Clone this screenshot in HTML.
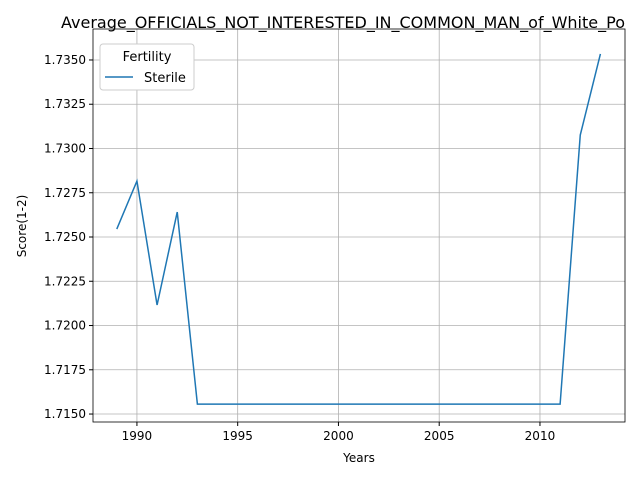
<!DOCTYPE html>
<html><head><meta charset="utf-8"><style>body{margin:0;background:#fff}svg{display:block;font-family:"DejaVu Sans","Liberation Sans",sans-serif}</style></head>
<body>
<svg id="chart" width="640" height="480">
<text x="61" y="28" font-size="16">Average_OFFICIALS_NOT_INTERESTED_IN_COMMON_MAN_of_White_Po</text>
<g id="grid"></g><g id="axes"></g><g id="series"></g>
<text x="359" y="462" font-size="12" text-anchor="middle">Years</text>
<text transform="translate(26,226) rotate(-90)" font-size="12" text-anchor="middle">Score(1-2)</text>
<g>
<rect x="100" y="44" width="94" height="46" fill="#fff" stroke="#ccc" rx="3"/>
<text x="147" y="61" font-size="13" text-anchor="middle">Fertility</text>
<line x1="105" y1="77" x2="133" y2="77" stroke="#1f77b4" stroke-width="1.5"/>
<text x="144" y="82" font-size="13">Sterile</text>
</g>
</svg>
<script>
const years=[1989,1990,1991,1992,1993,1994,1995,1996,1997,1998,1999,2000,2001,2002,2003,2004,2005,2006,2007,2008,2009,2010,2011,2012,2013];
const sterile=[1.72545,1.72816,1.72116,1.72641,1.71556,1.71556,1.71556,1.71556,1.71556,1.71556,1.71556,1.71556,1.71556,1.71556,1.71556,1.71556,1.71556,1.71556,1.71556,1.71556,1.71556,1.71556,1.71556,1.73076,1.73534];
const xTicks=[1990,1995,2000,2005,2010];
const yTicks=[1.7150,1.7175,1.7200,1.7225,1.7250,1.7275,1.7300,1.7325,1.7350];
const L=93,R=625,T=29,B=422,xMin=1987.82,xMax=2014.22,yMin=1.71455,yMax=1.73675;
const sx=v=>L+(v-xMin)/(xMax-xMin)*(R-L), sy=v=>B-(v-yMin)/(yMax-yMin)*(B-T);
const NS='http://www.w3.org/2000/svg';
function mk(tag,attrs,parent,txt){const e=document.createElementNS(NS,tag);for(const k in attrs)e.setAttribute(k,attrs[k]);if(txt!==undefined)e.textContent=txt;document.getElementById(parent).appendChild(e);return e;}
xTicks.forEach(t=>{const x=sx(t);
const g=mk('line',{x1:x,x2:x,y1:T,y2:B,stroke:'#b0b0b0','stroke-width':0.8},'grid');


mk('line',{x1:x,x2:x,y1:B,y2:B+4,stroke:'#000'},'axes');
const l=mk('text',{x:x,y:B+18,'font-size':12,'text-anchor':'middle'},'axes',String(t));

});
yTicks.forEach(t=>{const y=sy(t);
const g=mk('line',{x1:L,x2:R,y1:y,y2:y,stroke:'#b0b0b0','stroke-width':0.8},'grid');


mk('line',{x1:L-4,x2:L,y1:y,y2:y,stroke:'#000'},'axes');
const l=mk('text',{x:L-7,y:y+4,'font-size':12,'text-anchor':'end'},'axes',t.toFixed(4));

});
const f=mk('rect',{x:L,y:T,width:R-L,height:B-T,fill:'none',stroke:'#000','stroke-width':0.8},'axes');


const p=mk('polyline',{points:years.map((y,i)=>sx(y)+','+sy(sterile[i])).join(' '),fill:'none',stroke:'#1f77b4','stroke-width':1.5},'series');


</script>
</body></html>
